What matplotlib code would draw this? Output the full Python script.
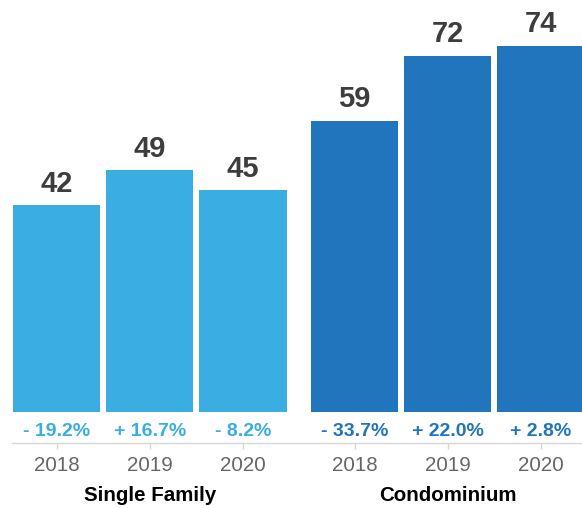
import matplotlib
matplotlib.use("Agg")
import matplotlib.pyplot as plt
from matplotlib.transforms import blended_transform_factory

plt.rcParams['font.family'] = ['Liberation Sans', 'DejaVu Sans']

# ---- data ----
groups = ["Single Family", "Condominium"]
years = ["2018", "2019", "2020"]
single_family = [42, 49, 45]
condominium = [59, 72, 74]
sf_change = [-19.2, 16.7, -8.2]
condo_change = [-33.7, 22.0, 2.8]

# ---- styling ----
c_sf = "#3aaee3"
c_condo = "#2075bd"
W, H = 582, 508

fig = plt.figure(figsize=(W / 100, H / 100), dpi=100)
ax = fig.add_axes([12 / W, (H - 412) / H, 570 / W, 412 / H])

group_offset = 3.2
x_sf = [i for i in range(len(years))]
x_condo = [i + group_offset for i in range(len(years))]
bar_w = 0.94

ax.bar(x_sf, single_family, width=bar_w, color=c_sf, linewidth=0)
ax.bar(x_condo, condominium, width=bar_w, color=c_condo, linewidth=0)

ax.set_xlim(-0.479, 5.643)
ax.set_ylim(0.5, 83.2)

for s in ["top", "right", "left"]:
    ax.spines[s].set_visible(False)
ax.spines["bottom"].set_position(("outward", 22.5))
ax.spines["bottom"].set_color("#d6d6d6")
ax.spines["bottom"].set_linewidth(1.0)
ax.set_yticks([])
ax.set_xticks(x_sf + x_condo)
ax.set_xticklabels(years + years)
ax.tick_params(axis="x", length=4.3, width=1.0, color="#d6d6d6", pad=5,
               labelsize=14.8, labelcolor="#666666")

# value labels
for xs, vals in ((x_sf, single_family), (x_condo, condominium)):
    for x, v in zip(xs, vals):
        ax.annotate(f"{v}", (x, v), xytext=(0, 9.6), textcoords="offset points",
                    ha="center", va="baseline", fontsize=21, fontweight="bold",
                    color="#3d3d3d")

# percent change labels
tr = blended_transform_factory(ax.transData, fig.transFigure)

def fmt(v):
    return f"{'+' if v > 0 else '-'} {abs(v):.1f}%"

for xs, ch, col in ((x_sf, sf_change, c_sf), (x_condo, condo_change, c_condo)):
    for x, v in zip(xs, ch):
        ax.text(x, (H - 435.7) / H, fmt(v), transform=tr, ha="center",
                va="baseline", fontsize=14, fontweight="bold", color=col)

# group labels
for xs, g in ((x_sf, groups[0]), (x_condo, groups[1])):
    ax.text(xs[1], (H - 501) / H, g, transform=tr, ha="center", va="baseline",
            fontsize=14.8, fontweight="bold", color="#000000")

fig.savefig("out.png", dpi=100)
